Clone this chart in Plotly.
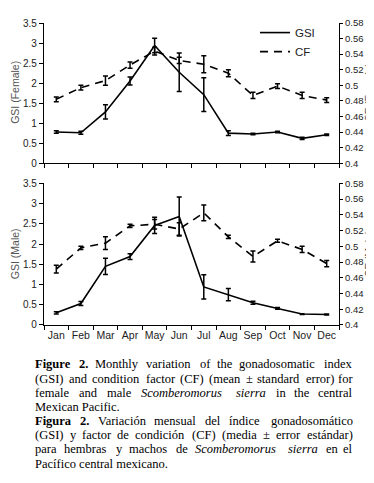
import plotly.graph_objects as go
from plotly.subplots import make_subplots

months = ["Jan", "Feb", "Mar", "Apr", "May", "Jun", "Jul", "Aug", "Sep", "Oct", "Nov", "Dec"]

gsi_female = [0.78, 0.76, 1.28, 2.05, 2.94, 2.27, 1.71, 0.75, 0.73, 0.78, 0.62, 0.71]
gsi_female_se = [0.03, 0.04, 0.18, 0.10, 0.18, 0.48, 0.42, 0.06, 0.02, 0.02, 0.03, 0.02]
cf_female = [0.482, 0.497, 0.506, 0.526, 0.544, 0.532, 0.527, 0.5155, 0.487, 0.499, 0.487, 0.481]
cf_female_se = [0.003, 0.003, 0.006, 0.004, 0.005, 0.004, 0.011, 0.0045, 0.004, 0.003, 0.004, 0.003]

gsi_male = [0.30, 0.53, 1.45, 1.69, 2.46, 2.68, 0.94, 0.75, 0.55, 0.41, 0.27, 0.26]
gsi_male_se = [0.03, 0.05, 0.20, 0.07, 0.20, 0.48, 0.30, 0.15, 0.04, 0.02, 0.01, 0.01]
cf_male = [0.471, 0.498, 0.504, 0.526, 0.528, 0.522, 0.5425, 0.512, 0.487, 0.507, 0.496, 0.478]
cf_male_se = [0.005, 0.002, 0.008, 0.002, 0.006, 0.008, 0.010, 0.002, 0.007, 0.002, 0.004, 0.004]

gsi_ticks = [0, 0.5, 1, 1.5, 2, 2.5, 3, 3.5]
cf_ticks = [0.4, 0.42, 0.44, 0.46, 0.48, 0.5, 0.52, 0.54, 0.56, 0.58]

# caption: list of lines; each line = list of (word, style); style r=regular, b=bold, i=italic
caption_lines = [
    [("Figure", "b"), ("2.", "b"), ("Monthly", "r"), ("variation", "r"), ("of", "r"), ("the", "r"),
     ("gonadosomatic", "r"), ("index", "r")],
    [("(GSI)", "r"), ("and", "r"), ("condition", "r"), ("factor", "r"), ("(CF)", "r"), ("(mean", "r"),
     ("±", "r"), ("standard", "r"), ("error)", "r"), ("for", "r")],
    [("female", "r"), ("and", "r"), ("male", "r"), ("Scomberomorus", "i"), ("sierra", "i"), ("in", "r"),
     ("the", "r"), ("central", "r")],
    [("Mexican", "r"), ("Pacific.", "r")],
    [("Figura", "b"), ("2.", "b"), ("Variación", "r"), ("mensual", "r"), ("del", "r"), ("índice", "r"),
     ("gonadosomático", "r")],
    [("(GSI)", "r"), ("y", "r"), ("factor", "r"), ("de", "r"), ("condición", "r"), ("(CF)", "r"),
     ("(media", "r"), ("±", "r"), ("error", "r"), ("estándar)", "r")],
    [("para", "r"), ("hembras", "r"), ("y", "r"), ("machos", "r"), ("de", "r"), ("Scomberomorus", "i"),
     ("sierra", "i"), ("en", "r"), ("el", "r")],
    [("Pacífico", "r"), ("central", "r"), ("mexicano.", "r")],
]
caption_justified = [True, True, True, False, True, True, True, False]

# approximate Times glyph widths (per 1000 em) used for justifying caption lines
W_R = dict(zip("abcdefghijklmnopqrstuvwxyz", [444, 500, 444, 500, 444, 333, 500, 500, 278, 278, 500, 278, 778,
                                               500, 500, 500, 500, 333, 389, 278, 500, 500, 722, 500, 500, 444]))
W_R.update({"A": 722, "C": 667, "F": 556, "G": 722, "I": 333, "M": 889, "P": 556, "S": 556,
            "(": 333, ")": 333, ".": 250, "±": 564, "2": 500, " ": 250})
W_B = dict(W_R)
W_B.update({"F": 611, "u": 556, "r": 444, "a": 500, "i": 278, "g": 500, "e": 444})
W_I = dict(W_R)
W_I.update({"S": 500, "m": 722, "r": 389, "a": 500, "o": 500, "b": 500, "e": 444, "s": 389})
ACC = {"í": "i", "á": "a", "ó": "o", "é": "e"}

def word_w(word, style, size):
    tbl = {"r": W_R, "b": W_B, "i": W_I}[style]
    return sum(tbl.get(ACC.get(c, c), 500) for c in word) * size / 1000.0 * 1.06

def fmt(w, s):
    return {"r": w, "b": "<b>" + w + "</b>", "i": "<i>" + w + "</i>"}[s]

W, H = 374, 483
ML, MR, MT, MB = 36, 43, 10, 166
plot_w = W - ML - MR
plot_h = H - MT - MB

def py(ypix):
    return (H - MB - ypix) / plot_h

def px(xpix):
    return (xpix - ML) / plot_w

fig = make_subplots(rows=2, cols=1, specs=[[{"secondary_y": True}], [{"secondary_y": True}]],
                    vertical_spacing=0.07)

axis_font = dict(family="Liberation Sans, Arial, sans-serif", size=10, color="#222")
title_font = dict(family="Liberation Sans, Arial, sans-serif", size=10.5, color="#555")
err = dict(type="data", color="black", thickness=1.5, width=2.5, visible=True)

fig.add_trace(go.Scatter(x=months, y=gsi_female, mode="lines", name="GSI",
                         line=dict(color="black", width=1.6),
                         error_y=dict(err, array=gsi_female_se)), row=1, col=1, secondary_y=False)
fig.add_trace(go.Scatter(x=months, y=cf_female, mode="lines", name="CF",
                         line=dict(color="black", width=1.6, dash="8px,6px"),
                         error_y=dict(err, array=cf_female_se)), row=1, col=1, secondary_y=True)
fig.add_trace(go.Scatter(x=months, y=gsi_male, mode="lines", name="GSI", showlegend=False,
                         line=dict(color="black", width=1.6),
                         error_y=dict(err, array=gsi_male_se)), row=2, col=1, secondary_y=False)
fig.add_trace(go.Scatter(x=months, y=cf_male, mode="lines", name="CF", showlegend=False,
                         line=dict(color="black", width=1.6, dash="8px,6px"),
                         error_y=dict(err, array=cf_male_se)), row=2, col=1, secondary_y=True)

top_dom = [py(152.5), 1.0]
bot_dom = [0.0, py(173)]

xcommon = dict(type="category", categoryorder="array", categoryarray=months, range=[-0.5, 11.5],
               tickson="boundaries", ticks="outside", ticklen=4, tickwidth=1.2, tickcolor="black",
               showline=True, linecolor="black", linewidth=1.2, showgrid=False, zeroline=False,
               tickfont=dict(axis_font, size=10.5), tickangle=0, automargin=False)
fig.update_layout(
    xaxis=dict(xcommon, showticklabels=False, domain=[0, 1], anchor="y"),
    xaxis2=dict(xcommon, showticklabels=True, domain=[0, 1], anchor="y3"),
)

ycommon = dict(showline=True, linecolor="black", linewidth=1.2, ticks="outside", ticklen=4,
               tickwidth=1.2, tickcolor="black", showgrid=False, zeroline=False, tickfont=axis_font,
               automargin=False)
right_font = dict(axis_font, size=9.5)
fig.update_layout(
    yaxis=dict(ycommon, domain=top_dom, range=[0, 3.5], tickvals=gsi_ticks),
    yaxis2=dict(ycommon, range=[0.4, 0.58], tickvals=cf_ticks, side="right", tickfont=right_font, ticklen=3),
    yaxis3=dict(ycommon, domain=bot_dom, range=[0, 3.5], tickvals=gsi_ticks),
    yaxis4=dict(ycommon, range=[0.4, 0.58], tickvals=cf_ticks, side="right", tickfont=right_font, ticklen=3),
)

annotations = []
for text, xp, yc in [("GSI (Female)", 7, 81), ("CF (Female)", 361, 81),
                     ("GSI (Male)", 7, 245), ("CF (Male)", 361, 245)]:
    annotations.append(dict(text=text, xref="paper", yref="paper", x=px(xp), y=py(yc),
                            xanchor="center", yanchor="middle", textangle=-90, showarrow=False,
                            borderpad=0, font=title_font))

cap_size = 12.5
cap_font = "Liberation Serif, Times New Roman, serif"
left_x, right_x = 26, 346
y0 = 357
dy = 14.4
for i, (words, just) in enumerate(zip(caption_lines, caption_justified)):
    yy = py(y0 + i * dy)
    if not just:
        annotations.append(dict(text=" ".join(fmt(w, s) for w, s in words), xref="paper", yref="paper",
                                x=px(left_x), y=yy, xanchor="left", yanchor="middle", showarrow=False,
                                borderpad=0, font=dict(family=cap_font, size=cap_size, color="black")))
        continue
    widths = [word_w(w, s, cap_size) for w, s in words]
    gap = (right_x - left_x - sum(widths)) / (len(words) - 1)
    xcur = left_x
    for k, ((w, s), ww) in enumerate(zip(words, widths)):
        if k == len(words) - 1:
            ax, anchor = right_x, "right"
        else:
            ax, anchor = xcur, "left"
        annotations.append(dict(text=fmt(w, s), xref="paper", yref="paper", x=px(ax), y=yy,
                                xanchor=anchor, yanchor="middle", showarrow=False, borderpad=0,
                                font=dict(family=cap_font, size=cap_size, color="black")))
        xcur += ww + gap

fig.update_layout(
    width=W, height=H, margin=dict(l=ML, r=MR, t=MT, b=MB),
    paper_bgcolor="white", plot_bgcolor="white",
    showlegend=True,
    legend=dict(x=px(247), y=py(5), xanchor="left", yanchor="top",
                bgcolor="rgba(0,0,0,0)", font=dict(axis_font, size=11.5), itemwidth=30,
                tracegroupgap=0),
    annotations=annotations,
)

fig.write_html("out.html")
